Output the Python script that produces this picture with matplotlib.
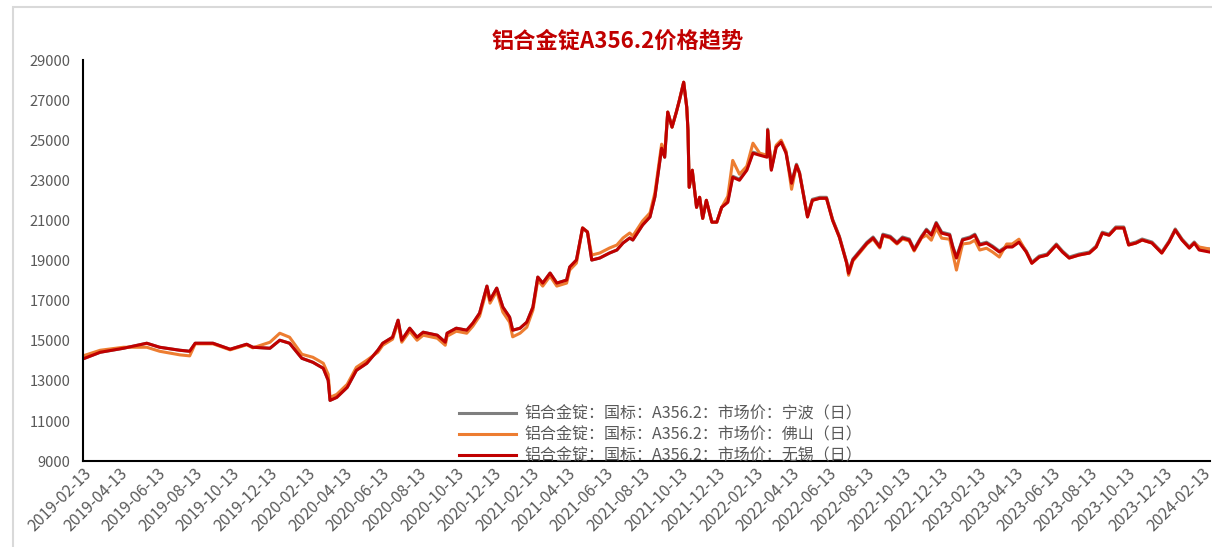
import numpy as np
import pandas as pd
import matplotlib
matplotlib.use("Agg")
import matplotlib.pyplot as plt
import matplotlib.dates as mdates
from matplotlib.patches import Rectangle

plt.rcParams['font.family'] = ['Noto Sans CJK SC', 'DejaVu Sans']

# 数据
fechas = [
    "2019-02-13", "2019-03-13", "2019-04-20", "2019-05-28", "2019-06-18", "2019-07-21", "2019-08-06", "2019-08-15", "2019-09-13", "2019-10-11",
    "2019-11-07", "2019-11-17", "2019-12-15", "2019-12-31", "2020-01-16", "2020-02-05", "2020-02-23", "2020-03-11", "2020-03-19", "2020-03-22",
    "2020-04-02", "2020-04-19", "2020-05-04", "2020-05-21", "2020-06-08", "2020-06-16", "2020-07-02", "2020-07-11", "2020-07-17", "2020-07-30",
    "2020-08-11", "2020-08-21", "2020-09-13", "2020-09-26", "2020-09-29", "2020-10-14", "2020-10-31", "2020-11-10", "2020-11-21", "2020-12-03",
    "2020-12-08", "2020-12-19", "2020-12-29", "2021-01-09", "2021-01-14", "2021-01-26", "2021-02-06", "2021-02-16", "2021-02-24", "2021-03-04",
    "2021-03-16", "2021-03-27", "2021-04-12", "2021-04-17", "2021-04-28", "2021-05-08", "2021-05-16", "2021-05-23", "2021-06-05", "2021-06-21",
    "2021-07-03", "2021-07-13", "2021-07-24", "2021-07-29", "2021-08-14", "2021-08-26", "2021-09-03", "2021-09-14", "2021-09-19", "2021-09-24",
    "2021-10-01", "2021-10-08", "2021-10-13", "2021-10-20", "2021-10-25", "2021-10-27", "2021-10-29", "2021-11-03", "2021-11-10", "2021-11-15",
    "2021-11-20", "2021-11-26", "2021-12-05", "2021-12-13", "2021-12-21", "2021-12-31", "2022-01-08", "2022-01-19", "2022-01-31", "2022-02-10",
    "2022-02-21", "2022-03-05", "2022-03-06", "2022-03-12", "2022-03-20", "2022-03-28", "2022-04-05", "2022-04-14", "2022-04-22", "2022-04-27",
    "2022-05-10", "2022-05-18", "2022-05-30", "2022-06-10", "2022-06-20", "2022-07-01", "2022-07-13", "2022-07-16", "2022-07-23", "2022-08-03",
    "2022-08-15", "2022-08-25", "2022-09-05", "2022-09-10", "2022-09-22", "2022-10-03", "2022-10-12", "2022-10-23", "2022-10-31", "2022-11-12",
    "2022-11-20", "2022-11-28", "2022-12-06", "2022-12-15", "2022-12-28", "2023-01-02", "2023-01-08", "2023-01-18", "2023-01-30", "2023-02-07",
    "2023-02-15", "2023-02-26", "2023-03-08", "2023-03-19", "2023-03-31", "2023-04-09", "2023-04-20", "2023-05-02", "2023-05-11", "2023-05-23",
    "2023-06-05", "2023-06-20", "2023-06-30", "2023-07-11", "2023-07-27", "2023-08-13", "2023-08-24", "2023-09-03", "2023-09-14", "2023-09-25",
    "2023-10-08", "2023-10-16", "2023-10-28", "2023-11-07", "2023-11-23", "2023-12-09", "2023-12-21", "2023-12-31", "2024-01-11", "2024-01-23",
    "2024-01-31", "2024-02-08", "2024-02-25",
]

# 无锡
precio_wuxi = [
    14100, 14430, 14630, 14880, 14680, 14530, 14480, 14880, 14880, 14580,
    14830, 14680, 14630, 15030, 14880, 14130, 13930, 13630, 13030, 12030,
    12180, 12680, 13530, 13880, 14530, 14880, 15180, 16030, 15030, 15630,
    15180, 15430, 15280, 14930, 15380, 15630, 15530, 15880, 16380, 17730,
    17030, 17630, 16680, 16180, 15530, 15630, 15930, 16680, 18180, 17880,
    18380, 17880, 18030, 18680, 19030, 20630, 20430, 19030, 19130, 19380,
    19530, 19880, 20130, 20030, 20780, 21180, 22180, 24610, 24160, 26410,
    25660, 26410, 27000, 27900, 26650, 25500, 22660, 23510, 21660, 22160,
    21110, 22010, 20920, 20920, 21660, 21910, 23160, 23010, 23510, 24360,
    24260, 24160, 25510, 23510, 24660, 24910, 24360, 22860, 23760, 23360,
    21180, 22010, 22110, 22110, 21010, 20170, 18870, 18370, 19030, 19430,
    19870, 20130, 19680, 20270, 20170, 19870, 20130, 20030, 19530, 20170,
    20520, 20270, 20860, 20370, 20270, 19680, 19130, 20030, 20130, 20270,
    19780, 19870, 19680, 19430, 19680, 19680, 19920, 19430, 18870, 19180,
    19280, 19780, 19430, 19130, 19280, 19380, 19680, 20370, 20270, 20630,
    20630, 19780, 19880, 20030, 19880, 19380, 19930, 20530, 20030, 19630,
    19880, 19530, 19430,
]

# 佛山
precio_foshan = [
    14250, 14530, 14680, 14680, 14480, 14300, 14250, 14850, 14850, 14550,
    14800, 14650, 14930, 15380, 15180, 14330, 14180, 13880, 13330, 12180,
    12330, 12830, 13680, 14030, 14430, 14780, 15080, 15930, 14930, 15480,
    15030, 15280, 15130, 14780, 15230, 15480, 15380, 15730, 16230, 17580,
    16880, 17480, 16430, 15930, 15200, 15380, 15680, 16530, 18030, 17730,
    18230, 17730, 17880, 18530, 18880, 20630, 20430, 19280, 19380, 19630,
    19780, 20130, 20380, 20230, 20980, 21380, 22380, 24810, 24360, 26410,
    25660, 26410, 27000, 27900, 26650, 25500, 22660, 23510, 21660, 22160,
    21110, 22010, 20920, 20920, 21660, 22210, 24000, 23310, 23710, 24860,
    24360, 24260, 25510, 23610, 24760, 25010, 24460, 22560, 23760, 23360,
    21180, 22010, 22110, 22110, 21010, 20170, 18870, 18270, 18980, 19380,
    19830, 20080, 19630, 20230, 20130, 19830, 20080, 19980, 19480, 20130,
    20270, 20020, 20610, 20120, 20070, 19380, 18530, 19830, 19880, 20020,
    19530, 19620, 19430, 19180, 19830, 19830, 20070, 19430, 18870, 19180,
    19280, 19780, 19430, 19130, 19280, 19380, 19680, 20370, 20270, 20630,
    20630, 19780, 19880, 20030, 19880, 19380, 19930, 20530, 20030, 19630,
    19880, 19680, 19580,
]

# 宁波
precio_ningbo = [
    14100, 14430, 14630, 14880, 14680, 14530, 14480, 14880, 14880, 14580,
    14830, 14680, 14630, 15030, 14880, 14130, 13930, 13630, 13030, 12030,
    12180, 12680, 13530, 13880, 14530, 14880, 15180, 16030, 15030, 15630,
    15180, 15430, 15280, 14930, 15380, 15630, 15530, 15880, 16380, 17730,
    17030, 17630, 16680, 16180, 15530, 15630, 15930, 16680, 18180, 17880,
    18380, 17880, 18030, 18680, 19030, 20630, 20430, 19030, 19130, 19380,
    19530, 19880, 20130, 20030, 20780, 21180, 22180, 24610, 24160, 26410,
    25660, 26410, 27000, 27900, 26650, 25500, 22660, 23510, 21660, 22160,
    21110, 22010, 20920, 20920, 21660, 21960, 23210, 23060, 23560, 24410,
    24310, 24210, 25560, 23560, 24710, 24960, 24410, 22910, 23810, 23410,
    21230, 22060, 22160, 22160, 21060, 20220, 18920, 18420, 19080, 19480,
    19920, 20180, 19730, 20320, 20220, 19920, 20180, 20080, 19580, 20220,
    20570, 20320, 20910, 20420, 20320, 19730, 19180, 20080, 20180, 20320,
    19830, 19920, 19730, 19480, 19730, 19730, 19970, 19480, 18920, 19230,
    19330, 19830, 19480, 19180, 19330, 19430, 19730, 20420, 20320, 20680,
    20680, 19830, 19930, 20080, 19930, 19430, 19980, 20580, 20080, 19680,
    19930, 19630, 19580,
]

etiquetas = ["铝合金锭：国标：A356.2：市场价：宁波（日）",
             "铝合金锭：国标：A356.2：市场价：佛山（日）",
             "铝合金锭：国标：A356.2：市场价：无锡（日）"]

fechas = pd.to_datetime(fechas)
ticks_x = pd.date_range("2019-02-01", "2024-02-01", freq="2MS") + pd.Timedelta(days=12)

fig = plt.figure(figsize=(12.12, 5.47), dpi=100)
ax = fig.add_axes([0.0685, 0.157, 0.93, 0.733])

# marco gris de la figura
fig.patches.append(Rectangle((13 / 1212, -0.1), 1.2, 1.1 - 7 / 547, transform=fig.transFigure,
                             fill=False, edgecolor='#d9d9d9', linewidth=1.5))

ax.plot(fechas, precio_ningbo, color='#7f7f7f', linewidth=2.2, label=etiquetas[0])
ax.plot(fechas, precio_foshan, color='#ed7d31', linewidth=2.2, label=etiquetas[1])
ax.plot(fechas, precio_wuxi, color='#c00000', linewidth=2.2, label=etiquetas[2])

ax.set_ylim(9000, 29000)
ax.set_yticks(np.arange(9000, 29001, 2000))
ax.set_xlim(pd.Timestamp("2019-02-13"), pd.Timestamp("2024-02-26"))
ax.set_xticks(ticks_x)
ax.xaxis.set_major_formatter(mdates.DateFormatter("%Y-%m-%d"))

for lado in ['top', 'right']:
    ax.spines[lado].set_visible(False)
for lado in ['left', 'bottom']:
    ax.spines[lado].set_linewidth(1.5)
    ax.spines[lado].set_color('black')

ax.tick_params(axis='both', length=0, labelcolor='#595959')
ax.tick_params(axis='y', labelsize=10.5, pad=9)
ax.tick_params(axis='x', labelsize=11.5, pad=3)
for t in ax.get_xticklabels():
    t.set_rotation(45)
    t.set_ha('right')
    t.set_va('top')
    t.set_rotation_mode('anchor')

ley = ax.legend(loc='lower center', bbox_to_anchor=(0.512, -0.045), frameon=False, fontsize=11.5,
                handlelength=3.6, handletextpad=0.5, labelspacing=0.25)
for t in ley.get_texts():
    t.set_color('#595959')

fig.text(0.51, 0.925, "铝合金锭A356.2价格趋势", ha='center', va='center',
         fontsize=16, fontweight='bold', color='#c00000')

fig.savefig("out.png", dpi=100)
